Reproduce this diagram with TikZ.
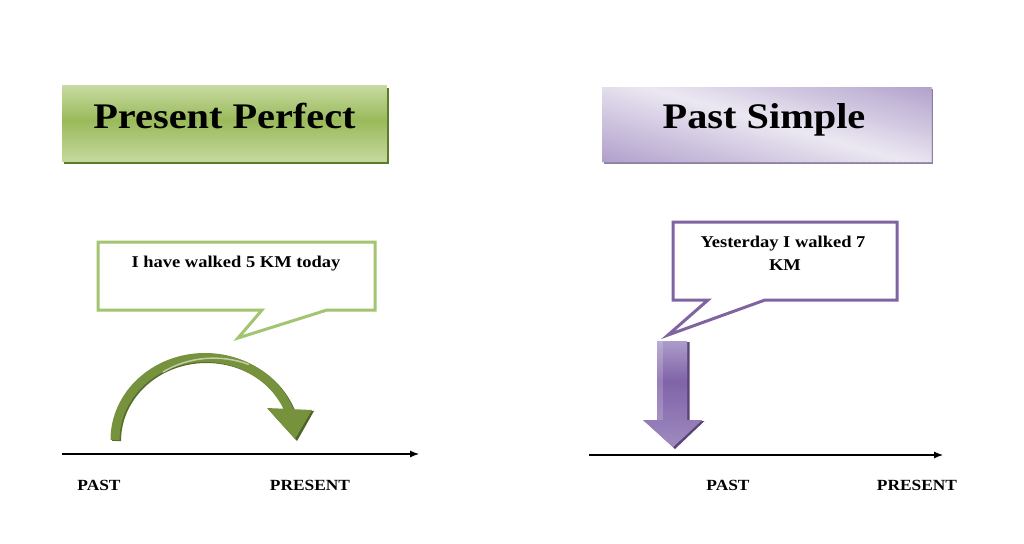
\documentclass[tikz,border=0pt]{standalone}
\usepackage{fontspec}
\newfontfamily\cam[FakeStretch=1.12]{Liberation Serif}
\usetikzlibrary{arrows.meta}
\definecolor{grnA}{HTML}{C8DBA3}
\definecolor{grnB}{HTML}{9ABA5A}
\definecolor{grnC}{HTML}{C3D89B}
\definecolor{grnD}{HTML}{5E7A2E}
\definecolor{grnLine}{HTML}{A3C470}
\definecolor{grnArrow}{HTML}{76923C}
\definecolor{grnDark}{HTML}{4F6228}
\definecolor{purA}{HTML}{B09FCB}
\definecolor{purB}{HTML}{ECE8F2}
\definecolor{purD}{HTML}{8E80A0}
\definecolor{purLine}{HTML}{8064A2}
\definecolor{purArrow}{HTML}{8063A8}
\definecolor{purLight}{HTML}{AC9CCA}
\definecolor{purDark}{HTML}{5B4577}
\tikzset{
  titletext/.style={font=\cam\bfseries\fontsize{36}{40}\selectfont, anchor=base, inner sep=0pt},
  bubbletext/.style={font=\cam\bfseries\fontsize{16.5}{23}\selectfont, anchor=base, inner sep=0pt, align=center},
  labeltext/.style={font=\cam\bfseries\fontsize{15.5}{18}\selectfont, anchor=base, inner sep=0pt},
  axisline/.style={line width=1.1pt, -{Latex[length=9pt,width=7pt]}},
}
\begin{document}
\begin{tikzpicture}[x=1pt,y=-1pt]
\useasboundingbox (0,0) rectangle (1024,543);
\fill[white] (0,0) rectangle (1024,543);

% ---- green title box (vertical gradient)
\fill[grnD] (63.5,87.5) rectangle (388.5,163.5);
\foreach \k in {0,...,75}{
  \ifnum\k<35
    \pgfmathsetmacro\p{\k/35*100}
    \fill[grnB!\p!grnA] (62,85+\k) rectangle (387,86.6+\k);
  \else
    \pgfmathsetmacro\p{100-(\k-35)/40*100}
    \fill[grnB!\p!grnC] (62,85+\k) rectangle (387,86.6+\k);
  \fi
}
\node[titletext] (t1) at (224.5,128) {Present Perfect};

% ---- purple title box (diagonal gradient)
\fill[purD] (603.5,88.5) rectangle (933,164);
\begin{scope}
  \clip (602,87) rectangle (931.5,162);
  \foreach \c in {-270,-264,...,336}{
    \ifnum\c<40
      \pgfmathsetmacro\p{(\c+270)/310*100}
    \else
      \pgfmathsetmacro\p{100-(\c-40)/296*100}
    \fi
    \fill[purB!\p!purA] (602+\c,87) -- (612+\c,87) -- (874.5+\c,162) -- (864.5+\c,162) -- cycle;
  }
\end{scope}
\node[titletext] (t2) at (764,128) {Past Simple};

% ---- left callout
\draw[grnLine, line width=3pt, line join=miter]
  (98,242) -- (375,242) -- (375,310) -- (327,310) -- (238,338) -- (262,310) -- (98,310) -- cycle;
\node[bubbletext] (c1) at (236,267) {I have walked 5 KM today};

% ---- right callout
\draw[purLine, line width=3pt, line join=miter]
  (673,222) -- (897,222) -- (897,300) -- (765,300) -- (668,335) -- (708,300) -- (673,300) -- cycle;
\node[bubbletext] (c2a) at (783,247) {Yesterday I walked 7};
\node[bubbletext] (c2b) at (785,270) {KM};

% ---- green curved arrow
\draw[grnDark!80!grnArrow, line width=9pt] (116.5,441) arc[start angle=180, end angle=339, x radius=90, y radius=82.5];
\draw[grnArrow, line width=9pt] (115,440) arc[start angle=180, end angle=339, x radius=90, y radius=82.5];
\draw[white!55!grnArrow, line width=1.5pt, line cap=round] (163,372) arc[start angle=237, end angle=292, x radius=93, y radius=86];
\fill[grnDark] (268,409) -- (314,411) -- (297,441) -- cycle;
\fill[grnArrow] (267,408) -- (312,410) -- (295,439) -- cycle;

% ---- purple down arrow
\fill[purDark] (659,342) -- (689.5,342) -- (689.5,421) -- (704.5,421) -- (675,449) -- (645,421) -- (659,421) -- cycle;
\begin{scope}
  \clip (657,341) -- (687,341) -- (687,420) -- (702,420) -- (673,447) -- (643,420) -- (657,420) -- cycle;
  \foreach \k in {0,...,106}{
    \ifnum\k<40
      \pgfmathsetmacro\p{\k/40*100}
    \else
      \pgfmathsetmacro\p{100-(\k-40)/66*70}
    \fi
    \fill[purArrow!\p!purLight] (640,341+\k) rectangle (705,342.6+\k);
  }
  \fill[white, opacity=0.18] (657,341) rectangle (663,420);
\end{scope}

% ---- axes
\coordinate (a1s) at (62,454);
\coordinate (a1e) at (419,454);
\draw[axisline] (a1s) -- (a1e);
\coordinate (a2s) at (589,455);
\coordinate (a2e) at (943,455);
\draw[axisline] (a2s) -- (a2e);

\node[labeltext] (p1) at (99,490) {PAST};
\node[labeltext] (n1) at (310,490) {PRESENT};
\node[labeltext] (p2) at (728,490) {PAST};
\node[labeltext] (n2) at (917,490) {PRESENT};
\end{tikzpicture}
\end{document}
